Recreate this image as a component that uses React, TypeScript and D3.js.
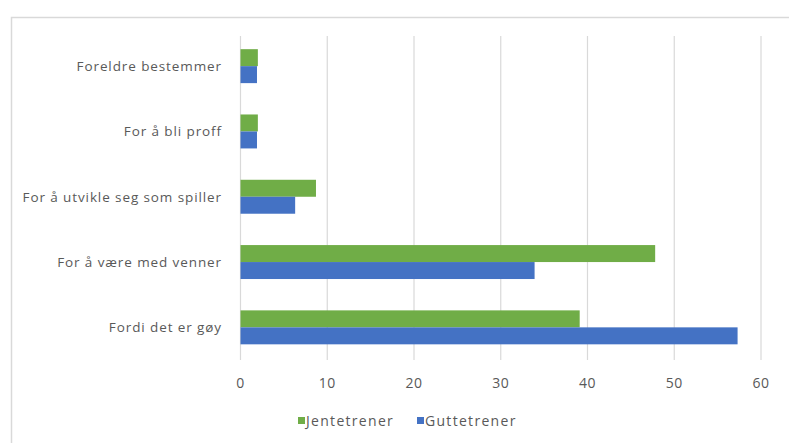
import React from "react";
import * as d3 from "d3";

const categories = [
  "Foreldre bestemmer",
  "For å bli proff",
  "For å utvikle seg som spiller",
  "For å være med venner",
  "Fordi det er gøy",
];
const seriesNames = ["Jentetrener", "Guttetrener"];
const jentetrener = [2.0, 2.0, 8.7, 47.8, 39.1];
const guttetrener = [1.9, 1.9, 6.3, 33.9, 57.3];
const xTicks = [0, 10, 20, 30, 40, 50, 60];
const colors = ["#70AD47", "#4472C4"];

const W = 789;
const H = 443;

export default function App() {
  const x = d3.scaleLinear().domain([0, 60]).range([240.5, 761]);
  const y = d3.scaleBand().domain(categories).range([33.5, 360]).paddingInner(0.48).paddingOuter(0.24);
  const inner = d3.scaleBand().domain(seriesNames).range([0, y.bandwidth()]);
  const series = [jentetrener, guttetrener];
  const font = "'Open Sans', 'Liberation Sans', sans-serif";
  const textColor = "#595959";

  return (
    <svg
      width={W}
      height={H}
      style={{ position: "absolute", left: 0, top: 0, background: "#fff" }}
      fontFamily={font}
    >
      <rect x={0} y={0} width={W} height={H} fill="#fff" />
      <rect x={11.5} y={17.5} width={800} height={450} fill="none" stroke="#d9d9d9" strokeWidth={1.5} />
      {xTicks.map((t) => (
        <g key={t}>
          <line x1={x(t)} x2={x(t)} y1={36} y2={360} stroke="#d9d9d9" strokeWidth={1.2} />
          <text x={x(t)} y={388} textAnchor="middle" fontSize={14} fill={textColor} letterSpacing={0.6}>
            {t}
          </text>
        </g>
      ))}
      {categories.map((c, i) => (
        <g key={c}>
          {series.map((s, j) => (
            <rect
              key={j}
              x={x(0)}
              y={(y(c) as number) + (inner(seriesNames[j]) as number)}
              width={x(s[i]) - x(0)}
              height={inner.bandwidth()}
              fill={colors[j]}
            />
          ))}
          <text
            x={222}
            y={(y(c) as number) + y.bandwidth() / 2 + 5}
            textAnchor="end"
            fontSize={13.5}
            fill={textColor}
            letterSpacing={0.9}
          >
            {c}
          </text>
        </g>
      ))}
      {seriesNames.map((n, j) => {
        const lx = j === 0 ? 298 : 417;
        return (
          <g key={n}>
            <rect x={lx} y={417} width={7} height={7} fill={colors[j]} />
            <text x={lx + 8} y={426} fontSize={14} fill={textColor} letterSpacing={1.3}>
              {n}
            </text>
          </g>
        );
      })}
    </svg>
  );
}
